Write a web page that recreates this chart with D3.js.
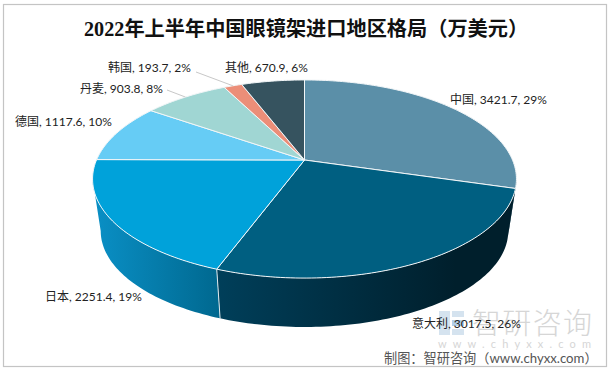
<!DOCTYPE html>
<html>
<head>
<meta charset="utf-8">
<script src="https://cdn.jsdelivr.net/npm/d3@7"></script>
<style>
html,body{margin:0;padding:0;background:#fff;}
svg{display:block;}
text{font-family:Lato,"Noto Sans CJK SC",sans-serif;}
</style>
</head>
<body>
<div id="chart"></div>
<script>
var categories = ["中国","意大利","日本","德国","丹麦","韩国","其他"];
var values = [3421.7,3017.5,2251.4,1117.6,903.8,193.7,670.9];
var percents = ["29%","26%","19%","10%","8%","2%","6%"];
var topColors = ["#5b8fa8","#005f81","#00a2da","#66ccf5","#a0d6d3","#ec8e78","#36535f"];
var sideLeft = ["#2f5a70","#003f5a","#0a90c6","","","",""];
var sideRight = ["#2f5a70","#001f2c","#00688f","","","",""];
var labelPos = [[450,100],[412,324],[45,297],[15,122],[80,89],[108,68],[225,68]];

var width = 609, height = 370;
var svg = d3.select("#chart").append("svg").attr("width",width).attr("height",height);
var defs = svg.append("defs");

// frame
svg.append("rect").attr("x",3.5).attr("y",4.5).attr("width",603).attr("height",362)
	.attr("fill","#fff").attr("stroke","#c4c4c4").attr("stroke-width",1.2);

svg.append("text").attr("x",84).attr("y",36)
	.attr("font-size",20.2).attr("font-weight","bold").attr("fill","#111")
	.style("font-family",'"Liberation Serif","Noto Sans CJK SC",serif')
	.text("2022年上半年中国眼镜架进口地区格局（万美元）");

// perspective circle, same thing for top face and bottom rim
var k = 0.192;
var topFace = {cx:304.5,cy:160,a:208,b:95.4};
var lowFace = {cx:304.5,cy:212.5,a:200,b:92.5};
function project(f,t){
	var w = 1+k*Math.cos(t);
	return [f.cx+f.a*Math.sin(t)/w, f.cy-f.b*Math.cos(t)/w];
}
function arcPts(f,t0,t1){
	var n = Math.max(2,Math.ceil((t1-t0)/0.02)), pts = [];
	for(var i=0;i<=n;i++) pts.push(project(f,t0+(t1-t0)*i/n));
	return pts;
}
var line = d3.line();
var pie = d3.pie().sort(null).value(function(d){return d;});
var arcs = pie(values);

// silhouette angles of the side wall
var tanA = Math.acos(-k), tanB = 2*Math.PI-tanA;

// side walls first
arcs.forEach(function(d,i){
	var t0 = Math.max(d.startAngle,tanA), t1 = Math.min(d.endAngle,tanB);
	if(t1<=t0) return;
	var up = arcPts(topFace,t0,t1), low = arcPts(lowFace,t0,t1).reverse();
	var all = up.concat(low);
	var ex = d3.extent(all,function(p){return p[0];});
	var id = "side"+i;
	var g = defs.append("linearGradient").attr("id",id).attr("gradientUnits","userSpaceOnUse")
		.attr("x1",ex[0]).attr("x2",ex[1]).attr("y1",0).attr("y2",0);
	g.append("stop").attr("offset",0).attr("stop-color",sideLeft[i]);
	if(i==1) g.append("stop").attr("offset",0.8).attr("stop-color",sideRight[i]);
	g.append("stop").attr("offset",1).attr("stop-color",sideRight[i]);
	svg.append("path").attr("d",line(all)+"Z").attr("fill","url(#"+id+")");
});
// white seam between the two front walls
var seam = arcs[1].endAngle;
svg.append("path").attr("d",line([project(topFace,seam),project(lowFace,seam)]))
	.attr("stroke","#dfe8ec").attr("stroke-width",1).attr("fill","none");

// top face
arcs.forEach(function(d,i){
	var pts = [[topFace.cx,topFace.cy]].concat(arcPts(topFace,d.startAngle,d.endAngle));
	svg.append("path").attr("d",line(pts)+"Z")
		.attr("fill",topColors[i]).attr("stroke","#f2f6f8").attr("stroke-width",1).attr("stroke-linejoin","round");
});

// leader lines for the two small labels
function leader(i,x,y){
	var mid = (arcs[i].startAngle+arcs[i].endAngle)/2, p = project(topFace,mid);
	svg.append("path").attr("d",line([[x,y],p])).attr("stroke","#c8c8c8").attr("stroke-width",1).attr("fill","none");
}
leader(5,196,72);
leader(4,167,90);

// watermark, sits under the labels
var wm = svg.append("g");
wm.append("rect").attr("x",439).attr("y",311).attr("width",11).attr("height",24).attr("fill","#d5e3ef");
wm.append("rect").attr("x",452).attr("y",311).attr("width",12).attr("height",6).attr("fill","#d5e3ef");
wm.append("rect").attr("x",452).attr("y",320).attr("width",12).attr("height",6).attr("fill","#b4d0e8");
wm.append("rect").attr("x",452).attr("y",329).attr("width",12).attr("height",6).attr("fill","#d5e3ef");
wm.append("text").attr("x",472).attr("y",334).attr("font-size",29).attr("font-weight",300).attr("fill","#d6d6d6")
	.attr("textLength",120).text("智研咨询");
wm.append("text").attr("x",438).attr("y",348).attr("font-size",11).attr("fill","#d6d6d6")
	.attr("textLength",153).text("www.chyxx.com");

// data labels
arcs.forEach(function(d,i){
	svg.append("text").attr("x",labelPos[i][0]).attr("y",labelPos[i][1]+4)
		.attr("font-size",12).attr("fill","#222")
		.text(categories[i]+", "+values[i]+", "+percents[i]);
});

svg.append("text").attr("x",384).attr("y",363).attr("font-size",13.2).attr("fill","#555")
	.text("制图：智研咨询（www.chyxx.com）");
</script>
</body>
</html>
